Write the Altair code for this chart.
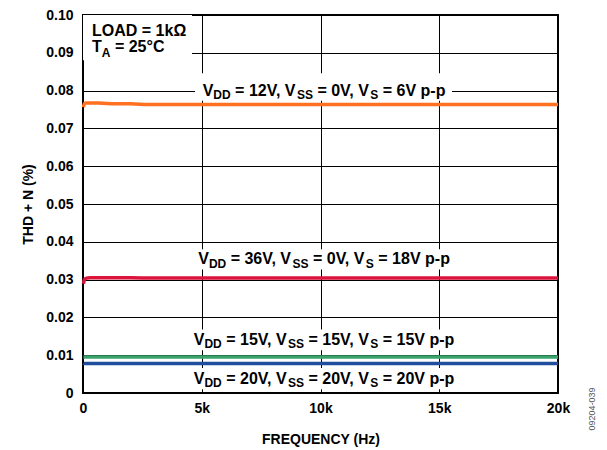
import re
import altair as alt
import pandas as pd

# ---------------- data ----------------
freq = [20, 60, 150, 300, 600, 1000, 2000, 3000, 4000, 6000, 10000, 15000, 20000]
thd_12v = [0.0756, 0.0766, 0.0767, 0.0767, 0.0767, 0.0766, 0.0765, 0.0763, 0.0763, 0.0763, 0.0763, 0.0763, 0.0763]
thd_36v = [0.0289, 0.0300, 0.0304, 0.0305, 0.0305, 0.0305, 0.0305, 0.0304, 0.0304, 0.0304, 0.0304, 0.0304, 0.0304]
thd_15v = [0.0095, 0.0095, 0.0095, 0.0095, 0.0095, 0.0095, 0.0095, 0.0095, 0.0095, 0.0095, 0.0095, 0.0095, 0.0095]
thd_20v = [0.0079, 0.0078, 0.0078, 0.0078, 0.0078, 0.0078, 0.0078, 0.0078, 0.0078, 0.0078, 0.0078, 0.0078, 0.0078]
series_names = ["12V", "36V", "15V", "20V"]
series_colors = ["#ff7020", "#dc143c", "#3aa36c", "#1f4e9c"]

x_ticks = [0, 5000, 10000, 15000, 20000]
y_ticks = [round(i * 0.01, 2) for i in range(11)]

# annotation labels: (text, centre frequency, baseline THD, align)
labels = [
    ("V_{DD} = 12V, V_{SS} = 0V, V_{S} = 6V p-p", 10150, 0.0786, "center"),
    ("V_{DD} = 36V, V_{SS} = 0V, V_{S} = 18V p-p", 10150, 0.0340, "center"),
    ("V_{DD} = 15V, V_{SS} = 15V, V_{S} = 15V p-p", 10150, 0.0127, "center"),
    ("V_{DD} = 20V, V_{SS} = 20V, V_{S} = 20V p-p", 10150, 0.0024, "center"),
    ("LOAD = 1kΩ", 380, 0.0944, "left"),
    ("T_{A} = 25°C", 380, 0.0902, "left"),
]
# white boxes behind labels: (f0, f1, y0, y1)
boxes = [
    (0, 4590, 0.0880, 0.1),
    (4716, 15537, 0.0773, 0.0846),
    (4590, 15790, 0.0327, 0.0380),
    (4400, 15800, 0.0113, 0.0168),
    (4450, 15800, 0.0010, 0.0066),
]
footnote = "09204-039"

# ---------------- build ----------------
FONT = "Liberation Sans"
MAIN_SIZE = 16
SUB_SIZE = 12

rows = []
for name, vals in zip(series_names, [thd_12v, thd_36v, thd_15v, thd_20v]):
    for f, v in zip(freq, vals):
        rows.append({"f": f, "thd": v, "s": name})
df = pd.DataFrame(rows)

x_scale = alt.Scale(domain=[0, 20000], nice=False, zero=False)
y_scale = alt.Scale(domain=[0, 0.1], nice=False)

x_axis = alt.Axis(
    values=x_ticks,
    title="FREQUENCY (Hz)",
    labelExpr="datum.value == 0 ? '0' : (datum.value / 1000) + 'k'",
    labelFlush=False,
    labelOverlap=False,
    labelPadding=8,
    titlePadding=17,
    grid=True,
)
y_axis = alt.Axis(
    values=y_ticks,
    title="THD + N (%)",
    labelExpr="datum.value == 0 ? '0' : format(datum.value, '.2f')",
    labelFlush=False,
    labelOverlap=False,
    labelPadding=10,
    titlePadding=10,
    grid=True,
)

box_df = pd.DataFrame(boxes, columns=["f", "f2", "thd", "thd2"])
rects = alt.Chart(box_df).mark_rect(color="white").encode(
    x=alt.X("f:Q", scale=x_scale, axis=x_axis),
    x2="f2:Q",
    y=alt.Y("thd:Q", scale=y_scale, axis=y_axis),
    y2="thd2:Q",
)

lines = alt.Chart(df).mark_line(strokeWidth=3.5, interpolate="monotone").encode(
    x=alt.X("f:Q", scale=x_scale, axis=x_axis),
    y=alt.Y("thd:Q", scale=y_scale, axis=y_axis),
    color=alt.Color(
        "s:N",
        scale=alt.Scale(domain=series_names, range=series_colors),
        legend=None,
    ),
    order=alt.Order("f:Q"),
)

# Arial / Liberation Sans Bold advance widths (per 1000 em)
W = {" ": 278, "=": 584, ",": 278, "-": 333, "V": 667, "D": 722,
     "S": 667, "p": 611, "L": 611, "O": 778, "A": 722, "k": 556, "Ω": 768,
     "T": 611, "°": 400, "C": 722}
for d in "0123456789":
    W[d] = 556


def text_width(s, size):
    return sum(W.get(ch, 600) for ch in s) * size / 1000.0


seg_layers = []
for text, cf, by, align in labels:
    parts = [p for p in re.split(r"(_\{[^}]*\})", text) if p]
    segs = []
    for p in parts:
        if p.startswith("_{"):
            segs.append((p[2:-1], True))
        else:
            segs.append((p, False))
    total = sum(text_width(t, SUB_SIZE if sub else MAIN_SIZE) for t, sub in segs)
    cursor = -total / 2.0 if align == "center" else 0.0
    for t, sub in segs:
        size = SUB_SIZE if sub else MAIN_SIZE
        lead = len(t) - len(t.lstrip(" "))
        core = t.strip(" ")
        start = cursor + text_width(" " * lead, size)
        if core:
            seg_df = pd.DataFrame({"f": [cf], "thd": [by], "t": [core]})
            seg_layers.append(
                alt.Chart(seg_df)
                .mark_text(
                    align="left",
                    baseline="alphabetic",
                    dx=start,
                    dy=(4.5 if core == "A" else 3.5) if sub else 0,
                    fontSize=size,
                    fontWeight="bold",
                    font=FONT,
                    color="black",
                )
                .encode(
                    x=alt.X("f:Q", scale=x_scale, axis=x_axis),
                    y=alt.Y("thd:Q", scale=y_scale, axis=y_axis),
                    text="t:N",
                )
            )
        cursor += text_width(t, size)

foot = alt.Chart(pd.DataFrame({"t": [footnote]})).mark_text(
    angle=270, fontSize=9, font=FONT, color="#555555", align="center", baseline="middle"
).encode(x=alt.value(509), y=alt.value(394), text="t:N")

chart = (
    alt.layer(rects, lines, *seg_layers, foot)
    .properties(
        width=475,
        height=378,
        autosize=alt.AutoSizeParams(type="none"),
        padding={"left": 75, "top": 7, "right": 41, "bottom": 55},
        background="white",
    )
    .configure_view(stroke="black", strokeWidth=2)
    .configure_axis(
        labelFont=FONT,
        labelFontSize=14,
        labelFontWeight="bold",
        labelColor="black",
        titleFont=FONT,
        titleFontSize=14,
        titleFontWeight="bold",
        titleColor="black",
        gridColor="black",
        gridWidth=1,
        gridOpacity=1,
        domain=False,
        ticks=False,
    )
)

chart.save("out.html", embed_options={"renderer": "svg", "actions": False})
